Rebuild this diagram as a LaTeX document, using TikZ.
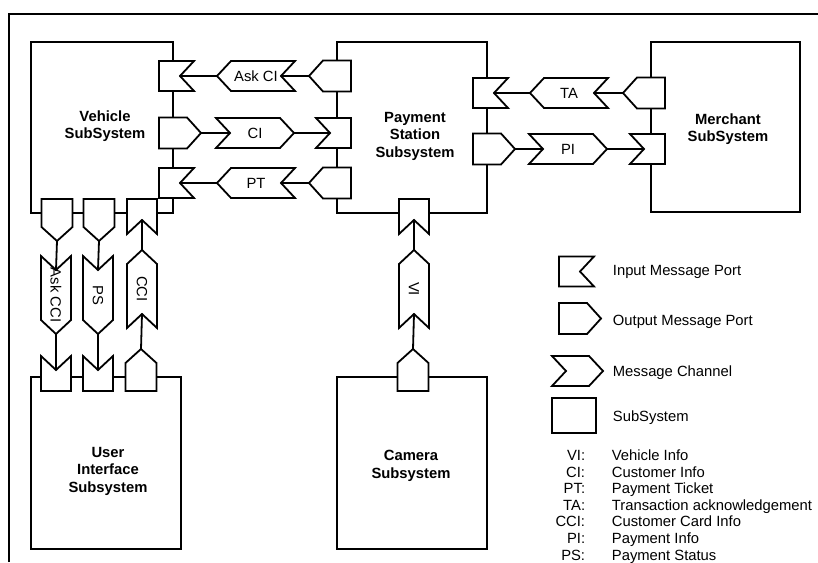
\documentclass[tikz,border=0pt]{standalone}
\usepackage{fontspec}
\setmainfont{Liberation Sans}
\begin{document}
\begin{tikzpicture}[x=1pt,y=1pt,
  line width=1.8pt,
  box/.style={draw, rectangle, inner sep=0pt, outer sep=0pt, anchor=north west},
  portshape/.style={draw, fill=white, line join=miter},
  conn/.style={draw, line cap=butt},
  lbl/.style={font=\fontsize{14.8}{17.5}\selectfont, inner sep=0pt},
  title/.style={font=\fontsize{14.8}{17.5}\selectfont\bfseries, align=center, inner sep=0pt},
  % input port: box edge at the origin, notch facing +x
  pics/inport/.style={code={
     \path[portshape] (-14,-15) -- (21,-15) -- (7,0) -- (21,15) -- (-14,15) -- cycle;
     \coordinate (-a) at (7,0);}},
  % output port: box edge at the origin, point facing +x
  pics/outport/.style={code={
     \path[portshape] (-14,-15.5) -- (14,-15.5) -- (28,0) -- (14,15.5) -- (-14,15.5) -- cycle;
     \coordinate (-a) at (28,0);}},
  % message channel of length #1, flowing along +x
  pics/channel/.style={code={
     \path[portshape] (0,-15) -- (#1-14,-15) -- (#1,0) -- (#1-14,15) -- (0,15) -- (14,0) -- cycle;
     \coordinate (-in) at (14,0);
     \coordinate (-out) at (#1,0);
     \coordinate (-mid) at (#1/2,0);}},
]
\useasboundingbox (0,0) rectangle (818,-562);

% outer frame
\draw (9,-562) -- (9,-14) -- (818,-14);

% subsystems
\node[box, minimum width=142pt, minimum height=171pt] (veh) at (31,-42) {};
\node[box, minimum width=150pt, minimum height=171pt] (pay) at (337,-42) {};
\node[box, minimum width=149pt, minimum height=170pt] (mer) at (651,-42) {};
\node[box, minimum width=150pt, minimum height=172pt] (ui)  at (31,-377) {};
\node[box, minimum width=150pt, minimum height=172pt] (cam) at (337,-377) {};

\node[title] (tVeh) at (105,-126) {Vehicle\\SubSystem};
\node[title] (tPay) at (415,-136) {Payment\\Station\\Subsystem};
\node[title] (tMer) at (728,-129) {Merchant\\SubSystem};
\node[title] (tUI)  at (108,-471) {User\\Interface\\Subsystem};
\node[title] (tCam) at (411,-466) {Camera\\Subsystem};

% ports of the vehicle subsystem
\pic (vAskCI) at (173,-76) {inport};
\pic (vCI) at (173,-133) {outport};
\pic (vPT) at (173,-183) {inport};
\pic[rotate=-90] (vAskCCI) at (57,-213) {outport};
\pic[rotate=-90] (vPS) at (99,-213) {outport};
\pic[rotate=-90] (vCCI) at (142,-213) {inport};

% ports of the payment station
\pic[rotate=180] (pAskCI) at (337,-76) {outport};
\pic[rotate=180] (pCI) at (337,-133) {inport};
\pic[rotate=180] (pPT) at (337,-183) {outport};
\pic (pTA) at (487,-93) {inport};
\pic (pPI) at (487,-149) {outport};
\pic[rotate=-90] (pVI) at (414,-213) {inport};

% ports of the merchant subsystem
\pic[rotate=180] (mTA) at (651,-93) {outport};
\pic[rotate=180] (mPI) at (651,-149) {inport};

% ports of the user interface subsystem
\pic[rotate=90] (uAskCCI) at (56,-377) {inport};
\pic[rotate=90] (uPS) at (98,-377) {inport};
\pic[rotate=90] (uCCI) at (141,-377) {outport};

% port of the camera subsystem
\pic[rotate=90] (kVI) at (413,-377) {outport};

% message channels
\pic[rotate=180] (cAskCI) at (295,-76) {channel=78};
\pic (cCI) at (216,-133) {channel=78};
\pic[rotate=180] (cPT) at (295,-183) {channel=78};
\pic[rotate=180] (cTA) at (608,-93) {channel=78};
\pic (cPI) at (529,-149) {channel=78};
\pic[rotate=-90] (cAskCCI) at (56,-256) {channel=78};
\pic[rotate=-90] (cPS) at (98,-256) {channel=78};
\pic[rotate=90] (cCCI) at (142,-328) {channel=78};
\pic[rotate=90] (cVI) at (414,-328) {channel=78};

\node[lbl] (lAskCI) at (cAskCI-mid) {Ask CI};
\node[lbl] (lCI) at (cCI-mid) {CI};
\node[lbl] (lPT) at (cPT-mid) {PT};
\node[lbl] (lTA) at (cTA-mid) {TA};
\node[lbl] (lPI) at (cPI-mid) {PI};
\node[lbl, rotate=-90] (lAskCCI) at (cAskCCI-mid) {Ask CCI};
\node[lbl, rotate=-90] (lPS) at (cPS-mid) {PS};
\node[lbl, rotate=-90] (lCCI) at (cCCI-mid) {CCI};
\node[lbl, rotate=-90] (lVI) at (cVI-mid) {VI};

% connections: output port -> channel -> input port
\draw[conn] (pAskCI-a) -- (cAskCI-in);  \draw[conn] (cAskCI-out) -- (vAskCI-a);
\draw[conn] (vCI-a) -- (cCI-in);        \draw[conn] (cCI-out) -- (pCI-a);
\draw[conn] (pPT-a) -- (cPT-in);        \draw[conn] (cPT-out) -- (vPT-a);
\draw[conn] (mTA-a) -- (cTA-in);        \draw[conn] (cTA-out) -- (pTA-a);
\draw[conn] (pPI-a) -- (cPI-in);        \draw[conn] (cPI-out) -- (mPI-a);
\draw[conn] (vAskCCI-a) -- (cAskCCI-in); \draw[conn] (cAskCCI-out) -- (uAskCCI-a);
\draw[conn] (vPS-a) -- (cPS-in);        \draw[conn] (cPS-out) -- (uPS-a);
\draw[conn] (uCCI-a) -- (cCCI-in);      \draw[conn] (cCCI-out) -- (vCCI-a);
\draw[conn] (kVI-a) -- (cVI-in);        \draw[conn] (cVI-out) -- (pVI-a);

% legend
\pic (legIn) at (573,-271.5) {inport};
\pic (legOut) at (573,-318.5) {outport};
\pic (legChan) at (552,-371) {channel=51};
\node[box, minimum width=44pt, minimum height=35pt] (legBox) at (552,-398) {};

\node[lbl, anchor=base west] (tIn) at (612,-275.5) {Input Message Port};
\node[lbl, anchor=base west] (tOut) at (612,-325) {Output Message Port};
\node[lbl, anchor=base west] (tChan) at (612,-376.5) {Message Channel};
\node[lbl, anchor=base west] (tBox) at (612,-421.5) {SubSystem};

% abbreviations
\foreach \k/\d [count=\i from 0] in {VI:/Vehicle Info, CI:/Customer Info,
    PT:/Payment Ticket, TA:/Transaction acknowledgement, CCI:/Customer Card Info,
    PI:/Payment Info, PS:/Payment Status} {
  \node[lbl, anchor=base east] (ab\i) at (586,-460.7-16.55*\i) {\k};
  \node[lbl, anchor=base west] (ad\i) at (611,-460.7-16.55*\i) {\d};
}
\end{tikzpicture}
\end{document}
